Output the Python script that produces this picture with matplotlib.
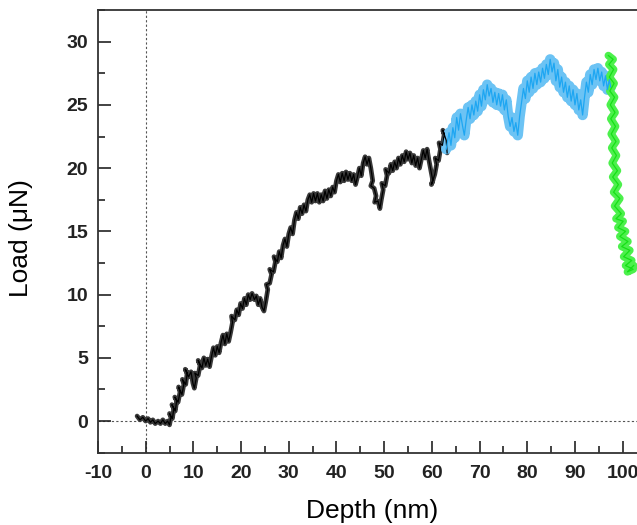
import matplotlib
matplotlib.use("Agg")
import matplotlib.pyplot as plt
from matplotlib.ticker import MultipleLocator

plt.rcParams["font.family"] = ["Liberation Sans", "DejaVu Sans"]
plt.rcParams["axes.unicode_minus"] = False

# Loading segment (black)
black_depth = [
    -1.8, -1.2, -0.6, 0.0, 0.5, 1.0, 1.5, 2.0, 2.6, 3.1, 3.6, 4.1, 4.6, 5.0, 5.3, 5.0,
    5.6, 5.9, 5.5, 6.2, 6.5, 6.1, 6.8, 7.2, 6.9, 7.6, 8.0, 7.7, 8.4, 8.7, 8.3, 9.0,
    9.5, 9.9, 10.2, 10.6, 10.3, 11.0, 11.4, 11.0, 11.8, 12.2, 12.6, 13.0, 13.4, 13.8,
    14.2, 14.6, 15.0, 15.4, 15.8, 16.2, 16.6, 17.0, 17.4, 17.8, 18.2, 18.0, 18.7,
    19.1, 19.5, 19.9, 20.3, 20.7, 21.1, 21.5, 21.9, 22.3, 22.8, 23.2, 23.6, 24.0,
    24.4, 24.8, 25.2, 25.6, 25.3, 26.0, 26.4, 26.0, 26.8, 27.2, 26.9, 27.6, 28.0,
    28.4, 28.8, 29.2, 29.6, 30.0, 30.4, 30.8, 31.2, 31.6, 32.0, 32.4, 32.8, 33.2,
    33.6, 34.0, 34.4, 34.8, 35.2, 35.6, 36.0, 36.4, 36.8, 37.2, 37.6, 38.0, 38.4,
    38.8, 39.2, 39.6, 40.0, 40.4, 40.8, 41.2, 41.6, 42.0, 42.4, 42.8, 43.2, 43.6,
    44.0, 44.4, 44.8, 45.2, 45.6, 46.0, 46.4, 46.8, 47.2, 47.6, 47.2, 47.9, 48.3,
    48.0, 48.7, 49.1, 49.4, 49.8, 49.5, 50.2, 50.6, 50.3, 51.0, 51.4, 51.8, 52.2,
    52.6, 53.0, 53.4, 53.8, 54.2, 54.6, 55.0, 55.4, 55.8, 56.2, 56.6, 57.0, 57.4,
    57.8, 58.2, 58.6, 59.0, 59.4, 59.8, 60.2, 59.9, 60.6, 61.0, 60.7, 61.4, 61.8,
    61.5, 62.2, 62.6, 62.3, 63.0, 63.2,
]
black_load = [
    0.4, 0.1, 0.3, 0.0, 0.2, -0.1, 0.1, -0.2, 0.0, -0.2, 0.1, -0.2, 0.0, -0.3, 0.3, 0.6,
    0.2, 1.0, 1.3, 0.8, 1.6, 1.9, 1.5, 2.3, 2.7, 2.1, 2.9, 3.3, 2.9, 3.8, 4.1, 3.5,
    3.9, 3.0, 2.6, 3.4, 3.8, 3.6, 4.4, 4.8, 4.2, 5.0, 4.4, 4.9, 4.3, 5.1,
    5.8, 5.2, 5.9, 5.4, 6.2, 6.8, 6.1, 6.9, 6.3, 7.0, 7.8, 8.3, 8.0,
    8.8, 8.4, 9.3, 8.9, 9.7, 9.2, 10.0, 9.6, 10.1, 9.6, 9.9, 9.2, 9.7,
    9.0, 8.7, 9.5, 10.4, 10.8, 10.9, 11.6, 12.0, 11.8, 12.6, 13.0, 12.6, 13.4,
    12.9, 13.9, 14.4, 13.8, 14.8, 15.3, 14.8, 15.9, 16.5, 16.0, 16.9, 16.4, 17.1,
    16.6, 17.5, 17.9, 17.3, 18.0, 17.4, 18.0, 17.3, 17.9, 17.4, 18.2, 17.6, 18.3,
    17.8, 18.5, 18.1, 19.0, 19.5, 18.9, 19.6, 19.0, 19.7, 19.1, 19.6, 19.0, 19.5,
    18.7, 19.3, 20.0, 19.4, 20.4, 20.9, 20.3, 20.8, 20.0, 19.0, 18.6, 18.4, 17.8,
    17.3, 17.4, 16.8, 17.5, 18.3, 18.8, 18.6, 19.4, 19.9, 19.6, 20.3, 19.8, 20.5,
    20.0, 20.8, 20.3, 21.0, 20.5, 21.3, 20.7, 21.2, 20.4, 21.0, 20.2, 20.8, 20.0,
    20.7, 21.4, 20.8, 21.5, 20.6, 19.8, 19.0, 18.7, 19.5, 20.3, 20.8, 20.6, 21.5,
    22.0, 21.8, 22.7, 23.0, 22.2, 21.2,
]

# Hold / creep segment (blue)
blue_depth = [
    63.0, 63.6, 64.0, 64.4, 64.8, 65.2, 65.6, 66.0, 66.4, 66.8, 67.2, 67.6, 68.0,
    68.4, 68.8, 69.2, 69.6, 70.0, 70.4, 70.8, 71.2, 71.6, 72.0, 72.4, 72.8, 73.2,
    73.6, 74.0, 74.4, 74.8, 75.2, 75.6, 76.0, 76.4, 76.8, 77.2, 77.6, 78.0, 78.4,
    78.8, 79.2, 79.6, 80.0, 80.4, 80.8, 81.2, 81.6, 82.0, 82.4, 82.8, 83.2, 83.6,
    84.0, 84.4, 84.8, 85.2, 85.6, 86.0, 86.4, 86.8, 87.2, 87.6, 88.0, 88.4, 88.8,
    89.2, 89.6, 90.0, 90.4, 90.8, 91.2, 91.6, 92.0, 92.4, 92.8, 93.2, 93.6, 94.0,
    94.4, 94.8, 95.2, 95.6, 96.0, 96.4, 96.8, 97.2, 97.5,
]
blue_load = [
    21.5, 22.8, 21.8, 23.2, 22.4, 24.0, 23.0, 24.3, 23.4, 22.6, 23.8, 24.8, 23.9,
    25.0, 24.2, 25.3, 24.5, 25.8, 24.9, 26.2, 25.4, 26.6, 25.7, 26.3, 25.2, 26.0,
    25.0, 25.9, 24.9, 25.8, 24.6, 25.4, 24.1, 23.3, 24.0, 22.9, 23.6, 22.6, 24.1,
    25.2, 26.3, 25.5, 26.9, 26.0, 27.2, 26.3, 27.5, 26.6, 27.6, 26.8, 27.9, 27.1,
    28.2, 27.4, 28.6, 27.6, 28.3, 26.9, 27.8, 26.4, 27.2, 26.0, 26.8, 25.6, 26.5,
    25.3, 26.2, 25.0, 25.9, 24.6, 25.4, 24.2, 25.6, 26.8, 26.0, 27.4, 26.6, 27.8,
    27.0, 27.9, 26.9, 27.6, 26.5, 27.3, 26.2, 27.0, 26.4,
]

# Unloading segment (green)
green_depth = [
    97.0, 98.0, 97.1, 98.1, 97.2, 98.2, 97.3, 98.3, 97.4, 98.4, 97.5, 98.5, 97.6,
    98.6, 97.7, 98.7, 97.8, 98.9, 97.9, 99.1, 98.1, 99.4, 98.3, 99.7, 98.6, 100.1,
    99.0, 100.6, 99.4, 101.1, 99.8, 101.5, 100.2, 101.9, 100.6, 102.2, 101.0, 102.3,
]
green_load = [
    28.9, 28.6, 28.2, 27.8, 27.2, 26.7, 26.1, 25.6, 25.0, 24.4, 23.9, 23.3, 22.7,
    22.1, 21.6, 21.0, 20.4, 19.8, 19.3, 18.7, 18.1, 17.6, 17.0, 16.4, 16.0, 15.8,
    15.3, 15.0, 14.6, 14.2, 13.8, 13.5, 13.0, 12.7, 12.3, 12.0, 11.8, 12.3,
]

fig = plt.figure(figsize=(6.37, 5.25), dpi=100)
ax = fig.add_axes([0.1538, 0.1377, 0.8986, 0.8432])

ax.axhline(0, color="#555555", lw=0.8, ls=(0, (2, 2)), zorder=1)
ax.axvline(0, color="#555555", lw=0.8, ls=(0, (2, 2)), zorder=1)

# wide lighter stroke gives the noisy band, thin stroke on top gives texture
segments = [
    (black_depth, black_load, "black", "#3a3a3a", 3.4),
    (blue_depth, blue_load, "#1ea6f2", "#6cc3f4", 7.5),
    (green_depth, green_load, "#16e016", "#4cf04c", 5.5),
]
for xs, ys, col, band_col, band_lw in segments:
    ax.plot(xs, ys, color=band_col, lw=band_lw,
            solid_joinstyle="round", solid_capstyle="round", zorder=3)
    ax.plot(xs, ys, color=col, lw=0.9, zorder=4)

ax.set_xlim(-10, 110)
ax.set_ylim(-2.5, 32.5)
ax.xaxis.set_major_locator(MultipleLocator(10))
ax.xaxis.set_minor_locator(MultipleLocator(5))
ax.yaxis.set_major_locator(MultipleLocator(5))
ax.yaxis.set_minor_locator(MultipleLocator(2.5))

ax.tick_params(which="both", direction="in", top=False, right=False, width=1.2,
               colors="#222222")
ax.tick_params(which="major", length=9)
ax.tick_params(which="minor", length=5)
ax.tick_params(axis="x", pad=9)
ax.tick_params(axis="y", pad=7)
for lab in ax.get_xticklabels() + ax.get_yticklabels():
    lab.set_fontsize(14)
    lab.set_fontweight("bold")

for side in ["left", "bottom", "top"]:
    ax.spines[side].set_linewidth(1.3)
    ax.spines[side].set_color("#333333")
ax.spines["right"].set_visible(False)

ax.set_xlabel("Depth (nm)", fontsize=19)
ax.set_ylabel("Load (\u03bcN)", fontsize=19)
ax.xaxis.set_label_coords(0.479, -0.105)
ax.yaxis.set_label_coords(-0.114, 0.486)

fig.savefig("out.png", dpi=100)
